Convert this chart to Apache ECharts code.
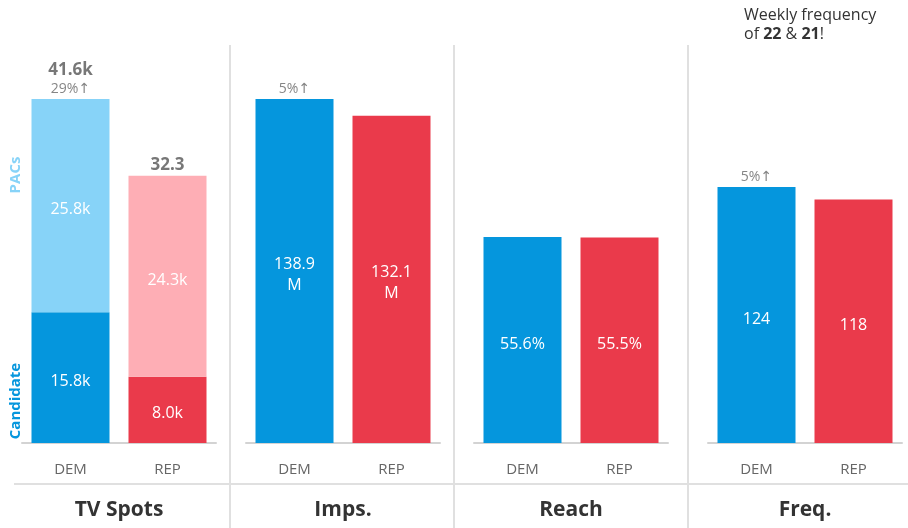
<!DOCTYPE html>
<html>
<head>
<meta charset="utf-8">
<script src="https://cdn.jsdelivr.net/npm/echarts@6/dist/echarts.min.js"></script>
<style>
  html, body { margin: 0; padding: 0; background: #fff; }
  #chart { width: 908px; height: 528px; }
</style>
</head>
<body>
<div id="chart"></div>
<script>
const parties = ['DEM', 'REP'];
const spotsCandidate = [15.8, 8.0];
const spotsPacs = [25.8, 24.3];
const spotsTotal = [41.6, 32.3];
const spotsTotalText = ['41.6k', '32.3'];
const spotsChange = ['29%', null];
const imps = [138.9, 132.1];
const impsChange = ['5%', null];
const reach = [55.6, 55.5];
const freq = [124, 118];
const freqChange = ['5%', null];
const panelTitles = ['TV Spots', 'Imps.', 'Reach', 'Freq.'];

const FONT = '"Open Sans", "DejaVu Sans", sans-serif';
const DEM = '#0596dd', DEM_LIGHT = '#87d3f8';
const REP = '#ea3a4b', REP_LIGHT = '#feaeb5';

const gridLefts = [22, 246, 474, 708];
const yMax = [48, 160.3, 107.2, 192.3];

const insideLabel = (fmt) => ({
    show: true,
    position: 'inside',
    color: '#fff',
    fontSize: 16,
    fontFamily: FONT,
    lineHeight: 21,
    offset: [0, 4],
    formatter: fmt
});

const colorBy = (c) => (p) => c[p.dataIndex];

const topLabel = {
    show: true,
    position: 'top',
    distance: 1,
    fontFamily: FONT,
    rich: {
        b: { fontSize: 17, fontWeight: 'bold', color: '#555', fontFamily: FONT, lineHeight: 20 },
        c: { fontSize: 14, color: '#666', fontFamily: FONT, lineHeight: 18 }
    }
};

const chart = echarts.init(document.getElementById('chart'));

chart.setOption({
    animation: false,
    grid: gridLefts.map(l => ({ left: l, width: 194, top: 46, bottom: 85 })),
    xAxis: gridLefts.map((l, i) => ({
        type: 'category',
        gridIndex: i,
        data: parties,
        axisTick: { show: false },
        axisLine: { lineStyle: { color: '#d3d3d3', width: 2 } },
        axisLabel: { margin: 19, fontSize: 15, color: '#666', fontFamily: FONT }
    })),
    yAxis: gridLefts.map((l, i) => ({
        type: 'value',
        gridIndex: i,
        min: 0,
        max: yMax[i],
        show: false
    })),
    series: [
        {
            type: 'bar', xAxisIndex: 0, yAxisIndex: 0, stack: 'spots', barWidth: 78,
            data: spotsCandidate,
            itemStyle: { color: colorBy([DEM, REP]) },
            label: insideLabel(p => p.value.toFixed(1) + 'k')
        },
        {
            type: 'bar', xAxisIndex: 0, yAxisIndex: 0, stack: 'spots', barWidth: 78,
            data: spotsPacs,
            itemStyle: { color: colorBy([DEM_LIGHT, REP_LIGHT]) },
            label: insideLabel(p => p.value.toFixed(1) + 'k')
        },
        {
            type: 'scatter', xAxisIndex: 0, yAxisIndex: 0, symbolSize: 0,
            data: spotsTotal,
            label: Object.assign({}, topLabel, {
                formatter: p => '{b|' + spotsTotalText[p.dataIndex] + '}' +
                    (spotsChange[p.dataIndex] ? '\n{c|' + spotsChange[p.dataIndex] + '↑}' : '')
            })
        },
        {
            type: 'bar', xAxisIndex: 1, yAxisIndex: 1, barWidth: 78,
            data: imps,
            itemStyle: { color: colorBy([DEM, REP]) },
            label: insideLabel(p => p.value.toFixed(1) + '\nM')
        },
        {
            type: 'scatter', xAxisIndex: 1, yAxisIndex: 1, symbolSize: 0,
            data: imps.map((v, i) => impsChange[i] ? v : null),
            label: Object.assign({}, topLabel, {
                formatter: p => '{c|' + impsChange[p.dataIndex] + '↑}'
            })
        },
        {
            type: 'bar', xAxisIndex: 2, yAxisIndex: 2, barWidth: 78,
            data: reach,
            itemStyle: { color: colorBy([DEM, REP]) },
            label: insideLabel(p => p.value.toFixed(1) + '%')
        },
        {
            type: 'bar', xAxisIndex: 3, yAxisIndex: 3, barWidth: 78,
            data: freq,
            itemStyle: { color: colorBy([DEM, REP]) },
            label: insideLabel(p => String(p.value))
        },
        {
            type: 'scatter', xAxisIndex: 3, yAxisIndex: 3, symbolSize: 0,
            data: freq.map((v, i) => freqChange[i] ? v : null),
            label: Object.assign({}, topLabel, {
                formatter: p => '{c|' + freqChange[p.dataIndex] + '↑}'
            })
        }
    ],
    graphic: [
        // dividers
        ...[230, 454, 688].map(x => ({
            type: 'line', silent: true,
            shape: { x1: x, y1: 45, x2: x, y2: 528 },
            style: { stroke: '#e0e0e0', lineWidth: 2 }
        })),
        {
            type: 'line', silent: true,
            shape: { x1: 14, y1: 484, x2: 908, y2: 484 },
            style: { stroke: '#e0e0e0', lineWidth: 2 }
        },
        // panel titles
        ...panelTitles.map((t, i) => ({
            type: 'text',
            x: gridLefts[i] + 97, y: 510,
            style: {
                text: t, align: 'center', verticalAlign: 'middle',
                fontSize: 21, fontWeight: 'bold', fill: '#333', fontFamily: FONT
            }
        })),
        // side labels
        {
            type: 'text', x: 16, y: 175, rotation: Math.PI / 2,
            style: {
                text: 'PACs', align: 'center', verticalAlign: 'middle',
                fontSize: 15, fontWeight: 'bold', fill: DEM_LIGHT, fontFamily: FONT
            }
        },
        {
            type: 'text', x: 16, y: 401, rotation: Math.PI / 2,
            style: {
                text: 'Candidate', align: 'center', verticalAlign: 'middle',
                fontSize: 15, fontWeight: 'bold', fill: DEM, fontFamily: FONT
            }
        },
        {
            type: 'text', x: 744, y: 6,
            style: {
                text: '{n|Weekly frequency}\n{n|of }{b|22}{n| & }{b|21}{n|!}',
                fontFamily: FONT,
                rich: {
                    n: { fontSize: 16, fill: '#333', fontFamily: FONT, lineHeight: 19 },
                    b: { fontSize: 16, fontWeight: 'bold', fill: '#333', fontFamily: FONT, lineHeight: 19 }
                }
            }
        }
    ]
});
</script>
</body>
</html>
